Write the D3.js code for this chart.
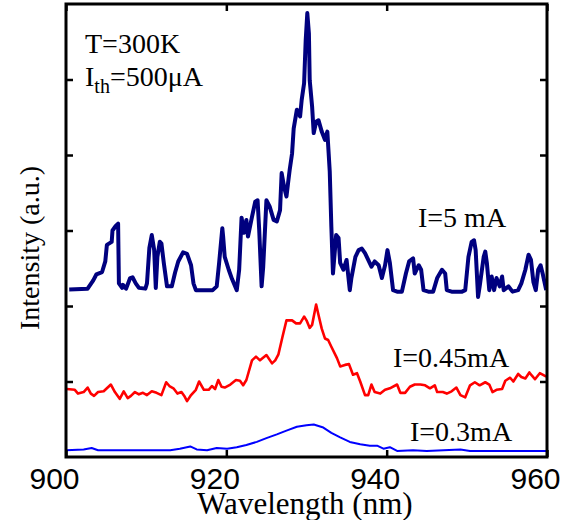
<!DOCTYPE html>
<html lang="en">
<head>
    <meta charset="UTF-8">
    <title>Intensity vs Wavelength</title>
    <script src="https://d3js.org/d3.v7.min.js"></script>
    <style>
        body { margin: 0; background: #fff; }
        svg text { font-family: "Liberation Serif", "Times New Roman", serif; fill: #000; }
        .tick text { font-family: "Liberation Sans", Arial, sans-serif; }
    </style>
</head>
<body>
<svg width="561" height="520"></svg>
<script>
// I = 5 mA
const wl5 = [900.4, 902.7, 903.4, 903.8, 904.5, 904.9, 905.1, 905.7, 905.8, 906.2, 906.5, 906.6, 907.0, 907.1, 907.5, 908.0, 908.3, 908.7, 909.1, 909.9, 910.1, 910.4, 910.7, 911.0, 911.2, 911.4, 911.7, 911.9, 912.2, 912.6, 913.2, 913.6, 914.0, 914.6, 915.1, 915.6, 915.9, 916.2, 918.3, 918.8, 919.1, 919.5, 919.6, 919.8, 920.3, 920.7, 921.3, 921.6, 921.9, 922.2, 922.5, 922.7, 923.2, 923.6, 923.9, 924.1, 924.4, 924.6, 925.0, 925.4, 925.9, 926.3, 926.7, 926.9, 927.2, 927.5, 927.7, 927.9, 928.2, 928.4, 928.8, 929.2, 929.4, 929.7, 929.9, 930.1, 930.3, 930.4, 930.7, 930.9, 931.2, 931.5, 931.9, 932.3, 932.6, 932.9, 933.1, 933.3, 933.7, 934.0, 934.2, 934.6, 935.0, 935.4, 935.6, 936.1, 936.5, 936.9, 937.3, 937.7, 938.1, 938.5, 939.0, 939.4, 939.8, 940.1, 940.4, 940.8, 941.3, 941.9, 942.4, 942.8, 943.3, 943.5, 944.0, 944.3, 944.6, 945.2, 945.8, 946.3, 946.9, 947.3, 947.5, 948.1, 949.4, 949.8, 950.2, 950.6, 950.9, 951.1, 951.4, 951.6, 952.1, 952.3, 952.5, 952.8, 953.1, 953.4, 953.7, 954.1, 954.4, 954.6, 955.2, 955.7, 956.4, 956.8, 957.3, 957.7, 958.0, 958.3, 958.6, 958.9, 959.2, 959.5, 959.9];
const int5 = [2.22, 2.23, 2.34, 2.42, 2.45, 2.59, 2.81, 2.85, 3.00, 3.06, 3.09, 2.30, 2.24, 2.28, 2.23, 2.37, 2.38, 2.30, 2.24, 2.23, 2.30, 2.77, 2.94, 2.74, 2.24, 2.65, 2.85, 2.83, 2.57, 2.26, 2.26, 2.44, 2.59, 2.71, 2.69, 2.54, 2.30, 2.21, 2.21, 2.26, 2.57, 3.03, 2.92, 2.65, 2.48, 2.36, 2.21, 2.48, 3.17, 2.97, 3.14, 2.92, 3.18, 3.38, 3.40, 3.01, 2.26, 2.52, 3.40, 3.32, 3.14, 3.12, 3.27, 3.76, 3.58, 3.45, 3.63, 3.80, 4.02, 4.35, 4.60, 4.51, 4.73, 4.95, 5.52, 5.88, 5.61, 4.99, 4.64, 4.29, 4.44, 4.46, 4.31, 4.20, 4.31, 3.78, 3.05, 2.43, 2.94, 2.90, 2.57, 2.48, 2.61, 2.21, 2.37, 2.65, 2.74, 2.76, 2.70, 2.61, 2.52, 2.59, 2.54, 2.37, 2.54, 2.74, 2.57, 2.21, 2.19, 2.19, 2.43, 2.59, 2.63, 2.43, 2.54, 2.48, 2.21, 2.19, 2.19, 2.37, 2.48, 2.43, 2.21, 2.19, 2.19, 2.21, 2.65, 2.85, 2.87, 2.74, 2.12, 2.26, 2.65, 2.72, 2.57, 2.21, 2.39, 2.21, 2.37, 2.26, 2.39, 2.21, 2.26, 2.19, 2.21, 2.30, 2.48, 2.68, 2.61, 2.32, 2.21, 2.48, 2.54, 2.41, 2.21];

// I = 0.45 mA
const wl45 = [900.1, 901.1, 901.5, 902.2, 902.7, 903.1, 903.5, 904.0, 904.7, 905.1, 905.6, 906.1, 906.7, 907.2, 907.7, 908.1, 908.6, 909.1, 909.6, 910.1, 910.7, 911.3, 911.9, 912.5, 912.9, 913.4, 913.9, 914.4, 914.8, 915.1, 915.6, 916.2, 916.6, 917.2, 917.8, 918.2, 918.6, 919.0, 919.4, 919.8, 920.5, 921.2, 921.7, 922.1, 922.5, 923.2, 923.7, 924.2, 925.0, 925.7, 926.1, 926.5, 927.0, 927.5, 928.2, 928.7, 929.2, 929.7, 930.0, 930.4, 930.7, 931.2, 931.5, 931.9, 932.3, 932.7, 933.1, 933.8, 934.2, 934.8, 935.3, 935.8, 936.3, 936.7, 937.3, 937.7, 938.1, 938.5, 939.2, 939.8, 940.4, 941.3, 941.7, 942.3, 942.9, 943.5, 944.2, 944.8, 945.4, 946.0, 946.3, 947.0, 947.5, 948.1, 948.7, 949.2, 949.8, 950.4, 951.0, 951.6, 952.3, 952.8, 953.2, 953.7, 954.4, 954.8, 955.4, 955.8, 956.4, 956.8, 957.3, 957.8, 958.1, 958.5, 959.1, 959.8, 960.0];
const int45 = [0.90, 0.89, 0.84, 0.86, 0.92, 0.84, 0.81, 0.86, 0.87, 0.91, 0.96, 0.86, 0.77, 0.87, 0.78, 0.81, 0.86, 0.83, 0.85, 0.82, 0.87, 0.85, 0.82, 0.99, 0.94, 0.91, 0.84, 0.86, 0.80, 0.74, 0.82, 0.89, 1.00, 0.89, 0.89, 0.94, 0.90, 1.02, 0.93, 0.92, 0.96, 1.02, 1.01, 0.95, 1.02, 1.28, 1.33, 1.28, 1.35, 1.24, 1.28, 1.36, 1.59, 1.81, 1.81, 1.77, 1.77, 1.86, 1.81, 1.71, 1.75, 2.02, 1.88, 1.70, 1.57, 1.55, 1.46, 1.31, 1.20, 1.22, 1.23, 1.09, 1.11, 1.00, 0.82, 0.82, 0.96, 0.86, 0.84, 0.89, 0.91, 0.96, 0.85, 0.85, 0.93, 0.96, 0.96, 0.95, 0.91, 0.95, 0.86, 0.86, 0.84, 0.87, 0.92, 0.82, 0.79, 0.95, 0.99, 0.95, 0.99, 0.96, 0.86, 0.89, 0.90, 1.01, 1.05, 1.00, 1.10, 1.06, 1.04, 1.12, 1.08, 1.03, 1.11, 1.07, 1.07];

// I = 0.3 mA
const wl3 = [900.0, 902.2, 903.2, 904.0, 907.6, 913.0, 914.2, 915.5, 916.3, 917.6, 918.8, 920.1, 921.3, 922.5, 923.8, 925.0, 926.3, 927.5, 928.8, 930.0, 930.9, 932.1, 933.1, 934.2, 935.4, 936.7, 937.9, 938.8, 939.6, 940.4, 941.3, 943.3, 945.0, 947.1, 949.2, 950.4, 953.3, 957.5, 960.0];
const int3 = [0.09, 0.10, 0.12, 0.09, 0.09, 0.09, 0.11, 0.14, 0.10, 0.09, 0.12, 0.11, 0.13, 0.16, 0.20, 0.25, 0.30, 0.35, 0.40, 0.42, 0.43, 0.39, 0.32, 0.26, 0.20, 0.17, 0.15, 0.15, 0.11, 0.13, 0.08, 0.09, 0.08, 0.09, 0.10, 0.08, 0.08, 0.08, 0.08];

const xTicks = [900, 920, 940, 960];
const yTicks = [1, 2, 3, 4, 5];

const series = [
    { name: "I=5 mA", wl: wl5, val: int5, color: "#00007f", width: 4, lx: 418, ly: 227 },
    { name: "I=0.45mA", wl: wl45, val: int45, color: "#ff0000", width: 2.6, lx: 393, ly: 367 },
    { name: "I=0.3mA", wl: wl3, val: int3, color: "#0000ff", width: 2, lx: 410, ly: 441 }
];

const svg = d3.select("svg");
const mLeft = 66, mRight = 547, mTop = 4, mBottom = 457;

const x = d3.scaleLinear().domain([900, 960]).range([mLeft, mRight]);
const y = d3.scaleLinear().domain([0, 6]).range([mBottom, mTop]);

svg.append("clipPath").attr("id", "plot")
    .append("rect").attr("x", mLeft).attr("y", mTop)
    .attr("width", mRight - mLeft).attr("height", mBottom - mTop);

const line = d3.line().x(d => x(d[0])).y(d => y(d[1]));

const g = svg.append("g").attr("clip-path", "url(#plot)");
series.forEach(s => {
    g.append("path")
        .datum(s.wl.map((w, i) => [w, s.val[i]]))
        .attr("fill", "none")
        .attr("stroke", s.color)
        .attr("stroke-width", s.width)
        .attr("stroke-linejoin", "round")
        .attr("d", line);
});

// ticks pointing inward on all sides
const bottomAxis = svg.append("g").attr("transform", `translate(0,${mBottom})`)
    .call(d3.axisBottom(x).tickValues(xTicks).tickSizeInner(-7).tickSizeOuter(0).tickPadding(11));
bottomAxis.selectAll("text").attr("font-size", 30).attr("dx", -12).attr("dy", "0.71em");
svg.append("g").attr("transform", `translate(0,${mTop})`)
    .call(d3.axisTop(x).tickValues(xTicks).tickSizeInner(-7).tickSizeOuter(0).tickFormat(""));
svg.append("g").attr("transform", `translate(${mLeft},0)`)
    .call(d3.axisLeft(y).tickValues(yTicks).tickSizeInner(-7).tickSizeOuter(0).tickFormat(""));
svg.append("g").attr("transform", `translate(${mRight},0)`)
    .call(d3.axisRight(y).tickValues(yTicks).tickSizeInner(-7).tickSizeOuter(0).tickFormat(""));
svg.selectAll(".domain").remove();
svg.selectAll(".tick line").attr("stroke", "#000").attr("stroke-width", 2.5);

svg.append("rect")
    .attr("x", mLeft).attr("y", mTop)
    .attr("width", mRight - mLeft).attr("height", mBottom - mTop)
    .attr("fill", "none").attr("stroke", "#000").attr("stroke-width", 3);

// labels
svg.append("text").attr("x", 305).attr("y", 514)
    .attr("text-anchor", "middle").attr("font-size", 31)
    .text("Wavelength (nm)");

svg.append("text")
    .attr("transform", "translate(39,248) rotate(-90)")
    .attr("text-anchor", "middle").attr("font-size", 28)
    .text("Intensity (a.u.)");

svg.append("text").attr("x", 85).attr("y", 53).attr("font-size", 28).text("T=300K");

const ith = svg.append("text").attr("x", 85).attr("y", 86).attr("font-size", 28);
ith.append("tspan").text("I");
ith.append("tspan").attr("font-size", 20).attr("dy", 7).text("th");
ith.append("tspan").attr("dy", -7).text("=500\u03bcA");

series.forEach(s => {
    svg.append("text").attr("x", s.lx).attr("y", s.ly).attr("font-size", 28).text(s.name);
});
</script>
</body>
</html>
